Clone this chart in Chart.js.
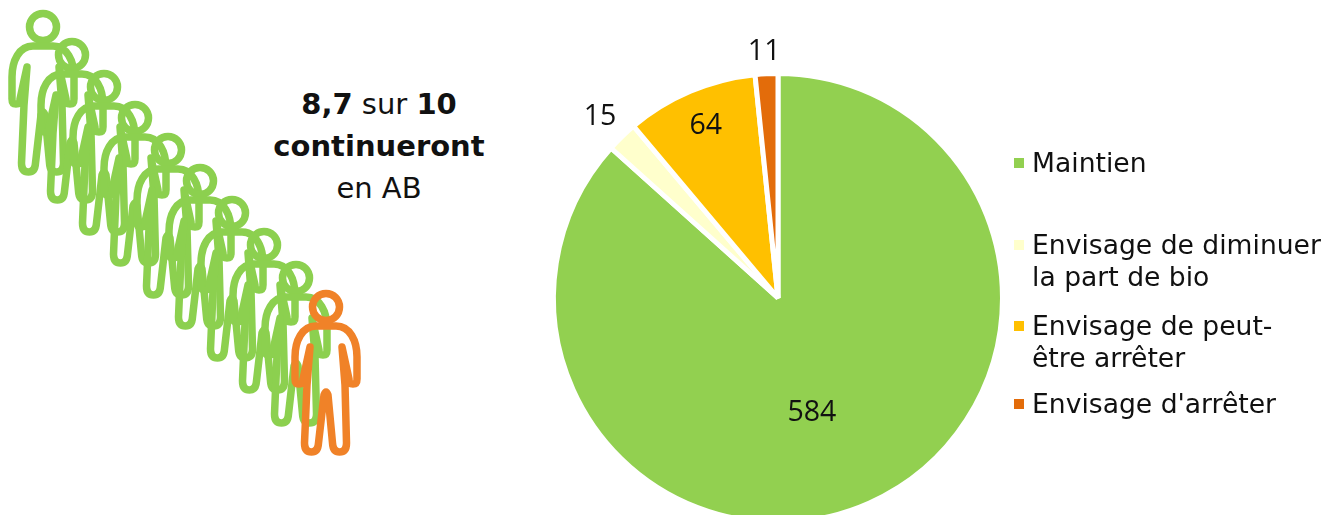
<!DOCTYPE html>
<html lang="fr">
<head>
<meta charset="utf-8">
<title>Intentions de maintien en AB</title>
<script src="https://cdn.jsdelivr.net/npm/chart.js@4"></script>
<style>
  html, body { margin: 0; width: 1325px; height: 515px; overflow: hidden; background: #fff; }
  body { position: relative; font-family: "DejaVu Sans", sans-serif; color: #111; }
  #pie { position: absolute; left: 0; top: 0; }
  #people { position: absolute; left: 0; top: 0; }
  #headline { position: absolute; left: 229px; top: 83px; width: 300px; text-align: center; font-size: 29px; line-height: 42px; }
  .legend-row { position: absolute; left: 1014px; font-size: 26.6px; line-height: 32px; white-space: pre; }
  .legend-row i { position: absolute; left: 0; top: 11px; width: 10px; height: 10px; }
  .legend-row span { position: absolute; left: 18px; top: 0; }
</style>
</head>
<body>
<svg id="people" width="1325" height="515" xmlns="http://www.w3.org/2000/svg">
  <defs>
    <g id="person" fill="none" stroke-width="7.5" stroke-linejoin="round" stroke-linecap="round">
      <circle cx="0" cy="0" r="13.5"/>
      <path d="M-10 19 C-24 19 -31 34 -31 50 L-31 72 Q-31 77 -27 77 Q-23 77 -23 72 L-16 40 L-19 78 L-21.5 136 Q-21.5 145 -14.5 145 Q-8 145 -7.5 136 L-2 88 Q0 82 2 88 L6.5 136 Q7 145 13.5 145 Q20.5 145 20.5 136 L19 78 L16 40 L23 72 Q23 77 27 77 Q31 77 31 72 L31 50 C31 34 24 19 10 19 Z"/>
    </g>
  </defs>
  <g id="queue"></g>
</svg>
<div id="headline"><b>8,7</b> sur <b>10</b><br><b>continueront</b><br>en AB</div>
<canvas id="pie" width="1325" height="600" style="width:1325px;height:600px"></canvas>
<div id="legend"></div>
<script>
// Réponses des agriculteurs : effectifs par intention
const categories = ["Maintien", "Envisage de diminuer\nla part de bio", "Envisage de peut-\nêtre arrêter", "Envisage d'arrêter"];
const counts = [584, 15, 64, 11];
const sliceColors = ["#92D050", "#FFFFCC", "#FFC000", "#E36C0A"];

// Emplacement des étiquettes : angle en degrés depuis le haut, distance relative au rayon
const labelAngles = [163.3, 315.8, 337.5, 356.8];
const labelDistances = [0.526, 1.137, 0.84, 1.106];

// Rangées de la légende (haut de chaque bloc de texte)
const legendTops = [147, 229, 310, 388];

// File de personnages : centres des têtes
const queueX = [43, 72, 104, 135, 168, 200, 232, 264, 296, 326];
const queueY = [27, 55, 87, 118, 150, 181, 213, 245, 278, 307];
const queueGreen = "#8CD04F";
const queueOrange = "#F08228";

const queue = document.getElementById("queue");
queueX.forEach((x, i) => {
  const use = document.createElementNS("http://www.w3.org/2000/svg", "use");
  use.setAttribute("href", "#person");
  use.setAttribute("transform", `translate(${x} ${queueY[i]})`);
  use.setAttribute("stroke", i === queueX.length - 1 ? queueOrange : queueGreen);
  queue.appendChild(use);
});

const legend = document.getElementById("legend");
categories.forEach((name, i) => {
  const row = document.createElement("div");
  row.className = "legend-row";
  row.style.top = legendTops[i] + "px";
  const swatch = document.createElement("i");
  swatch.style.background = sliceColors[i];
  const text = document.createElement("span");
  text.textContent = name;
  row.append(swatch, text);
  legend.appendChild(row);
});

// Valeurs écrites sur et autour des parts
const sliceValues = {
  id: "sliceValues",
  afterDatasetsDraw(chart) {
    const { ctx } = chart;
    const arcs = chart.getDatasetMeta(0).data;
    ctx.save();
    ctx.font = '28.5px "Open Sans", sans-serif';
    ctx.fillStyle = "#111";
    ctx.textAlign = "center";
    ctx.textBaseline = "middle";
    arcs.forEach((arc, i) => {
      const a = labelAngles[i] * Math.PI / 180;
      const r = arc.outerRadius * labelDistances[i];
      ctx.fillText(String(counts[i]), arc.x + r * Math.sin(a), arc.y - r * Math.cos(a) + 2);
    });
    ctx.restore();
  }
};

new Chart(document.getElementById("pie"), {
  type: "pie",
  data: {
    labels: categories,
    datasets: [{
      data: counts,
      backgroundColor: sliceColors,
      borderColor: "#fff",
      borderWidth: 5,
      hoverOffset: 0
    }]
  },
  options: {
    responsive: false,
    animation: false,
    layout: { padding: { left: 551, right: 320, top: 71, bottom: 75 } },
    plugins: { legend: { display: false }, tooltip: { enabled: false } }
  },
  plugins: [sliceValues]
});
</script>
</body>
</html>
